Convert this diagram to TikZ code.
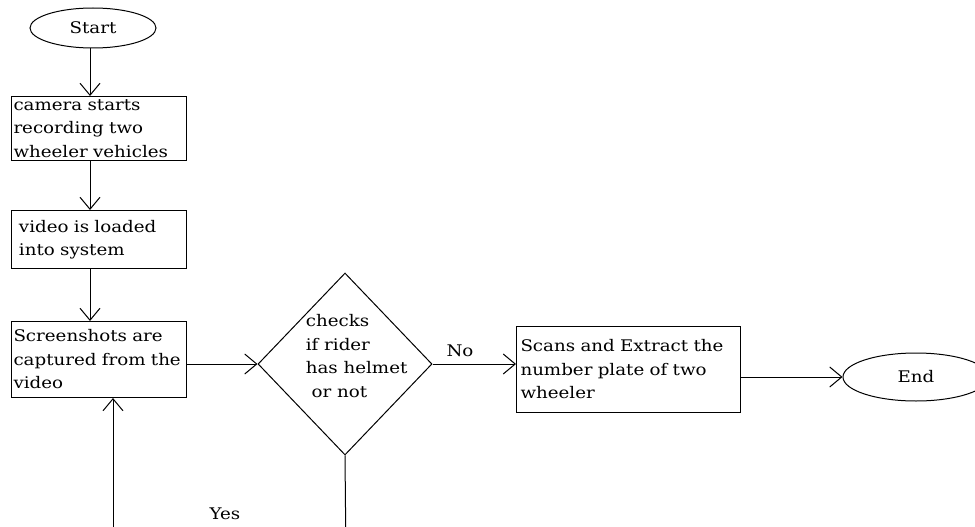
\documentclass[tikz,border=0pt]{standalone}
\usepackage{fontspec}
\setmainfont{DejaVu Serif}[FakeStretch=1.14]
\usetikzlibrary{arrows.meta,shapes.geometric}

\begin{document}
\begin{tikzpicture}[x=1pt,y=-1pt,line width=1pt,
	every node/.style={font=\fontsize{16}{23.5}\selectfont},
	flow/.style={-{Straight Barb[length=12pt,width=20pt,line width=1pt]}},
	stepbox/.style={draw,rectangle,inner xsep=2pt,inner ysep=3pt,align=left,anchor=north west},
	terminal/.style={draw,ellipse,inner sep=0pt}]
			%%%%% START %%%%%
			\useasboundingbox (0,0) rectangle (975,527);
			\clip (0,0) rectangle (975,527);
			
			\node[terminal,minimum width=126pt,minimum height=40pt] (start) at (93,28) {Start};
			
			\node[stepbox,minimum width=175pt,minimum height=60pt,text width=171pt] (camera) at (11,96) {camera starts\\recording two\\wheeler vehicles};
			\node[stepbox,minimum width=175pt,minimum height=58pt,text width=160pt,inner xsep=7.5pt] (video) at (11,210) {video is loaded\\into system};
			\node[stepbox,minimum width=175pt,minimum height=76pt,text width=171pt] (shots) at (11,321) {Screenshots are\\captured from the\\video};
			
			\node[draw,diamond,minimum width=174pt,minimum height=182pt,inner sep=0pt] (check) at (345,364) {};
			\node[align=left,anchor=north west] (checktext) at (302,311) {checks\\if rider\\has helmet\\\ or not};
			
			\node[stepbox,minimum width=224pt,minimum height=86pt,text width=216pt,inner xsep=4pt] (scan) at (516,326) {Scans and Extract the\\number plate of two\\wheeler};
			
			\node[terminal,minimum width=146pt,minimum height=48pt] (end) at (916,377) {End};
			
			\draw[flow] (start.south -| 90,0) -- (camera.north -| 90,0);
			\draw[flow] (camera.south -| 90,0) -- (video.north -| 90,0);
			\draw[flow] (video.south -| 90,0) -- (shots.north -| 90,0);
			\draw[flow] (shots.east |- check.west) -- (check.west);
			\draw[flow] (check.east) -- (scan.west |- check.east);
			\draw[flow] (scan.east |- end.west) -- (end.west);
			\node (no) at (460,351) {No};
			
			% loop back below the page
			\coordinate (down) at (346,560);
			\coordinate (up) at (113,560);
			\draw (check.south) -- (down);
			\draw[flow] (up) -- (shots.south -| up);
			\node (yes) at (225,514) {Yes};
			
			%%%%% END %%%%%
		\end{tikzpicture}
\end{document}
